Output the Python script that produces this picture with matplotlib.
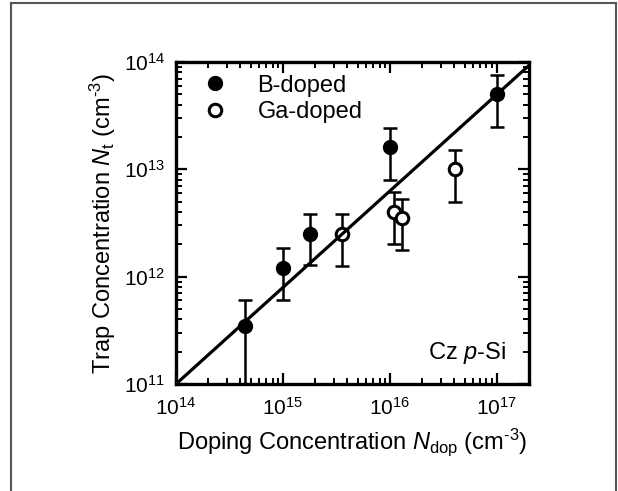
import matplotlib
matplotlib.use('Agg')
import matplotlib.pyplot as plt
from matplotlib.lines import Line2D
import numpy as np

plt.rcParams['font.family'] = 'Liberation Sans'
plt.rcParams['mathtext.fontset'] = 'custom'
plt.rcParams['mathtext.rm'] = 'Liberation Sans'
plt.rcParams['mathtext.it'] = 'Liberation Sans:italic'

# B-doped samples
b_x = [4.4e14, 1.0e15, 1.8e15, 1.0e16, 1.0e17]
b_y = [3.5e11, 1.2e12, 2.5e12, 1.6e13, 5.0e13]
b_lo = [1.0e11, 6.0e11, 1.28e12, 8.0e12, 2.5e13]
b_hi = [6.0e11, 1.85e12, 3.8e12, 2.45e13, 7.5e13]

# Ga-doped samples
ga_x = [3.6e15, 1.1e16, 1.3e16, 4.1e16]
ga_y = [2.5e12, 4.0e12, 3.5e12, 1.0e13]
ga_lo = [1.25e12, 2.0e12, 1.76e12, 5.0e12]
ga_hi = [3.8e12, 6.2e12, 5.3e12, 1.53e13]

# fit line end points
fit_x = [1e14, 2e17]
fit_y = [1e11, 9.3e13]

fig = plt.figure(figsize=(6.18, 4.91), dpi=100)
ax = fig.add_axes([176/618, 1-384/491, 353/618, 322/491])

def yerr(y, lo, hi):
	y = np.array(y); return [y-np.array(lo), np.array(hi)-y]

ax.errorbar(b_x, b_y, yerr=yerr(b_y, b_lo, b_hi), fmt='none', ecolor='black',
	elinewidth=1.8, capsize=5, capthick=1.8, zorder=2)
ax.errorbar(ga_x, ga_y, yerr=yerr(ga_y, ga_lo, ga_hi), fmt='none', ecolor='black',
	elinewidth=1.8, capsize=5, capthick=1.8, zorder=2)
ax.plot(b_x, b_y, 'o', color='black', markersize=10, label='B-doped', zorder=3)
ax.plot(ga_x, ga_y, 'o', markerfacecolor='white', markeredgecolor='black',
	markeredgewidth=2.2, markersize=9, label='Ga-doped', zorder=3)
ax.plot(fit_x, fit_y, color='black', linewidth=2.3, zorder=4)

ax.set_xscale('log')
ax.set_yscale('log')
ax.set_xlim(1e14, 2e17)
ax.set_ylim(1e11, 1e14)

ax.tick_params(which='both', direction='in', top=True, right=True, labelsize=15)
ax.tick_params(which='major', length=8, width=1.6)
ax.tick_params(which='minor', length=4.5, width=1.4)
ax.tick_params(axis='x', which='major', pad=9)
ax.tick_params(axis='y', which='major', pad=8)
for s in ax.spines.values():
	s.set_linewidth(2.4)

ax.set_xlabel(r'Doping Concentration $\mathit{N}_\mathrm{dop}$ (cm$^{\text{-}3}$)', fontsize=17, labelpad=6)
ax.set_ylabel(r'Trap Concentration $\mathit{N}_\mathrm{t}$ (cm$^{\text{-}3}$)', fontsize=17, labelpad=4)

ax.legend(loc='upper left', frameon=False, fontsize=17, handletextpad=1.3,
	handlelength=1.0, bbox_to_anchor=(0.05, 0.99), borderaxespad=0.0, labelspacing=0.2)
ax.text(0.935, 0.097, r'Cz $\mathit{p}$-Si', transform=ax.transAxes, ha='right',
	va='center', fontsize=17)

# outer frame, open at the bottom
for xs, ys in [([11/618, 11/618], [0, 1-3/491]), ([11/618, 616/618], [1-3/491, 1-3/491]),
		([616/618, 616/618], [1-3/491, 0])]:
	fig.add_artist(Line2D(xs, ys, color='#555555', linewidth=1.5, transform=fig.transFigure))

plt.savefig('out.png', dpi=100)
plt.close()
